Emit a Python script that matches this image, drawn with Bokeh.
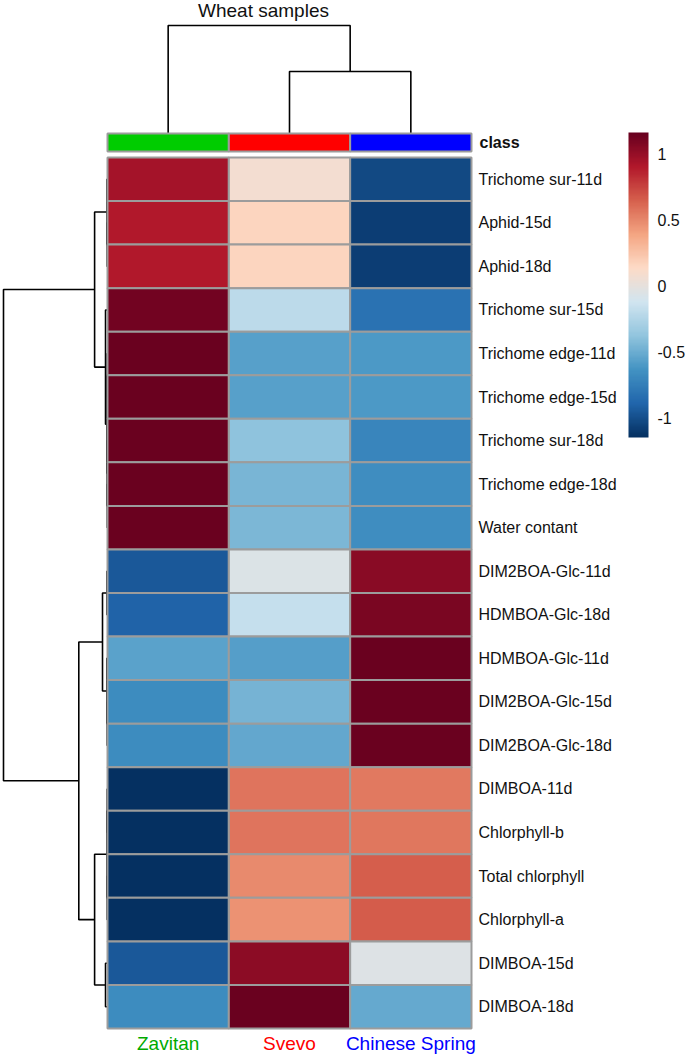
import numpy as np
from bokeh.plotting import figure
from bokeh.models import ColumnDataSource, Range1d, LinearColorMapper, ColorBar, FixedTicker
from bokeh.core.properties import value
from bokeh.embed import file_html
from bokeh.resources import INLINE

# ---------------- data ----------------
features = ["Trichome sur-11d", "Aphid-15d", "Aphid-18d", "Trichome sur-15d",
            "Trichome edge-11d", "Trichome edge-15d", "Trichome sur-18d",
            "Trichome edge-18d", "Water contant", "DIM2BOA-Glc-11d",
            "HDMBOA-Glc-18d", "HDMBOA-Glc-11d", "DIM2BOA-Glc-15d",
            "DIM2BOA-Glc-18d", "DIMBOA-11d", "Chlorphyll-b", "Total chlorphyll",
            "Chlorphyll-a", "DIMBOA-15d", "DIMBOA-18d"]
samples = ["Zavitan", "Svevo", "Chinese Spring"]
class_colors = ["#00cc00", "#ff0000", "#0000ff"]
label_colors = ["#00aa00", "#ff0000", "#0000ff"]

zavitan = [0.95, 0.90, 0.90, 1.12, 1.15, 1.15, 1.15, 1.15, 1.15, -0.96,
           -0.90, -0.56, -0.68, -0.68, -1.15, -1.15, -1.15, -1.15, -0.96, -0.68]
svevo = [0.07, 0.16, 0.16, -0.21, -0.57, -0.57, -0.39, -0.46, -0.45, -0.06,
         -0.17, -0.58, -0.47, -0.53, 0.57, 0.565, 0.485, 0.46, 1.03, 1.15]
chinese_spring = [-1.03, -1.08, -1.08, -0.82, -0.60, -0.60, -0.71, -0.67, -0.67, 1.04,
                  1.09, 1.15, 1.15, 1.15, 0.55, 0.56, 0.65, 0.66, -0.05, -0.52]

# row linkage (leaf indices in display order; new clusters numbered from 20)
row_merges = [(1, 2, 0.03), (0, 20, 0.05), (4, 5, 0.03), (7, 8, 0.02), (6, 23, 0.04),
              (22, 24, 0.06), (3, 25, 0.19), (21, 26, 1.24), (9, 10, 0.05),
              (12, 13, 0.03), (11, 29, 0.06), (28, 30, 0.48), (14, 15, 0.03),
              (16, 17, 0.03), (32, 33, 0.05), (18, 19, 0.19), (34, 35, 1.24),
              (31, 36, 2.76), (27, 37, 10.0)]
# column linkage (leaves 0..2, new cluster numbered from 3)
col_merges = [(1, 2, 1.40), (0, 3, 2.44)]

cbar_ticks = [-1, -0.5, 0, 0.5, 1]
cbar_labels = ["-1", "-0.5", "0", "0.5", "1"]

# ---------------- layout (page pixels) ----------------
W, H = 685, 1055
ORG = 0
X0, X3 = 107, 471
Y0, Y20 = 157, 1028
colw = (X3 - X0) / 3.0
rowh = (Y20 - Y0) / 20.0


def xd(px):
    return (px - X0) / colw


def yd(py):
    return (py - Y0) / rowh


# palette: reversed RdBu (10) interpolated
rdbu10 = ["#67001f", "#b2182b", "#d6604d", "#f4a582", "#fddbc7",
          "#d1e5f0", "#92c5de", "#4393c3", "#2166ac", "#053061"][::-1]


def ramp(cols, n):
    rgb = np.array([[int(c[i:i + 2], 16) for i in (1, 3, 5)] for c in cols], float)
    pos = np.linspace(0, 1, len(cols))
    t = np.linspace(0, 1, n)
    out = []
    for tt in t:
        r = np.interp(tt, pos, rgb[:, 0]); g = np.interp(tt, pos, rgb[:, 1]); b = np.interp(tt, pos, rgb[:, 2])
        out.append("#%02x%02x%02x" % (int(round(r)), int(round(g)), int(round(b))))
    return out


palette = ramp(rdbu10, 256)
mapper = LinearColorMapper(palette=palette, low=-1.15, high=1.16)

p = figure(width=W, height=H,
           x_range=Range1d(xd(ORG), xd(ORG + W)),
           y_range=Range1d(yd(ORG + H), yd(ORG)),
           output_backend="svg", toolbar_location=None, min_border=0,
           x_axis_location=None, y_axis_location=None,
           outline_line_color=None, background_fill_color="white",
           border_fill_color="white")
p.grid.visible = False

# ---------------- row dendrogram ----------------
row_px_per_dist = (X0 - 3) / max(m[2] for m in row_merges)
n = len(features)
pos = {i: i + 0.5 for i in range(n)}
hgt = {i: 0.0 for i in range(n)}
rxs, rys = [], []
for k, (a, b, h) in enumerate(row_merges):
    nid = n + k
    xa = -hgt[a] * row_px_per_dist / colw
    xb = -hgt[b] * row_px_per_dist / colw
    xh = -h * row_px_per_dist / colw
    rxs.append([xa, xh, xh, xb]); rys.append([pos[a], pos[a], pos[b], pos[b]])
    pos[nid] = (pos[a] + pos[b]) / 2.0
    hgt[nid] = h
p.multi_line(xs=rxs, ys=rys, line_color="black", line_width=1.6)

# ---------------- column dendrogram ----------------
leaf_y = yd(133)
col_px_per_dist = (133 - 25) / max(m[2] for m in col_merges)
m = len(samples)
cpos = {i: i + 0.5 for i in range(m)}
chgt = {i: 0.0 for i in range(m)}
cxs, cys = [], []
for k, (a, b, h) in enumerate(col_merges):
    nid = m + k
    ya = leaf_y - chgt[a] * col_px_per_dist / rowh
    yb = leaf_y - chgt[b] * col_px_per_dist / rowh
    yh = leaf_y - h * col_px_per_dist / rowh
    cxs.append([cpos[a], cpos[a], cpos[b], cpos[b]]); cys.append([ya, yh, yh, yb])
    cpos[nid] = (cpos[a] + cpos[b]) / 2.0
    chgt[nid] = h
p.multi_line(xs=cxs, ys=cys, line_color="black", line_width=1.6)

# ---------------- heatmap ----------------
cols = [zavitan, svevo, chinese_spring]
hx, hy, hv = [], [], []
for j, series in enumerate(cols):
    for i, v in enumerate(series):
        hx.append(j + 0.5); hy.append(i + 0.5); hv.append(v)
src = ColumnDataSource(dict(x=hx, y=hy, v=hv))
p.rect(x="x", y="y", width=1, height=1, source=src,
       fill_color={"field": "v", "transform": mapper},
       line_color="#9c9c9c", line_width=2)

# class bar
cb_src = ColumnDataSource(dict(x=[j + 0.5 for j in range(m)],
                               y=[(yd(133) + yd(151)) / 2.0] * m,
                               c=class_colors))
p.rect(x="x", y="y", width=1, height=yd(151) - yd(133), source=cb_src,
       fill_color="c", line_color="#9c9c9c", line_width=2)

FONT = value("Liberation Sans")
# row labels
p.text(x=[xd(478)] * n, y=[i + 0.5 for i in range(n)], text=features,
       text_font=FONT, text_font_size="16px", text_baseline="middle",
       text_align="left", text_color="#111111")
p.text(x=[xd(479)], y=[(yd(133) + yd(151)) / 2.0], text=["class"],
       text_font=FONT, text_font_size="16px", text_font_style="bold",
       text_baseline="middle", text_align="left", text_color="#111111")

# column labels
p.text(x=[j + 0.5 for j in range(m)], y=[yd(1043)] * m, text=samples,
       text_font=FONT, text_font_size="19px", text_baseline="middle",
       text_align="center", text_color=label_colors)

# title
p.text(x=[xd(263)], y=[yd(10)], text=["Wheat samples"], text_font=FONT,
       text_font_size="19px", text_baseline="middle", text_align="center",
       text_color="#111111")

# colour bar
cbar = ColorBar(color_mapper=mapper, width=20, height=305, padding=0,
                location=(628 - ORG, H - (437 - ORG)),
                ticker=FixedTicker(ticks=cbar_ticks),
                major_label_overrides={t: l for t, l in zip(cbar_ticks, cbar_labels)},
                major_tick_line_color=None, minor_tick_line_color=None,
                bar_line_color=None, label_standoff=9,
                major_label_text_font_size="16px",
                major_label_text_font="Liberation Sans",
                major_label_text_color="#111111",
                background_fill_alpha=0, border_line_color=None)
p.add_layout(cbar)

open("out.html", "w").write(file_html(p, INLINE))
